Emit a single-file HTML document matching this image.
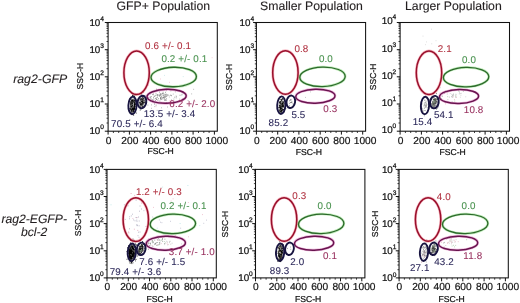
<!DOCTYPE html>
<html><head><meta charset="utf-8"><title>Flow cytometry figure</title>
<style>
html,body{margin:0;padding:0;background:#fff;}
body{width:520px;height:303px;overflow:hidden;}
svg{display:block;font-family:"Liberation Sans",sans-serif;text-rendering:geometricPrecision;}
.t{font-size:12.25px;fill:#231f20;stroke:#231f20;stroke-width:0.12px;}
.k{font-size:10.2px;fill:#111;stroke:#111;stroke-width:0.2px;}
.y{font-size:9.8px;fill:#111;stroke:#111;stroke-width:0.22px;}
.s{font-size:6.6px;fill:#111;stroke:#111;stroke-width:0.25px;}
.a{font-size:8.6px;fill:#111;stroke:#111;stroke-width:0.22px;}
.r{font-size:12.17px;font-style:italic;fill:#231f20;stroke:#231f20;stroke-width:0.1px;}
.n{font-size:9.8px;stroke-width:0.08px;letter-spacing:0.15px;}
</style></head>
<body>
<svg width="520" height="303" viewBox="0 0 520 303">
<rect width="520" height="303" fill="#fff"/>
<text class="t" x="163.3" y="10.2" text-anchor="middle">GFP+ Population</text>
<text class="t" x="311.5" y="10.2" text-anchor="middle">Smaller Population</text>
<text class="t" x="453.4" y="10.2" text-anchor="middle">Larger Population</text>
<text class="r" x="13.2" y="82.6" style="font-size:12.3px">rag2-GFP</text>
<text class="r" x="34.2" y="222.8" text-anchor="middle">rag2-EGFP-</text>
<text class="r" x="34.2" y="236.4" text-anchor="middle">bcl-2</text>
<g>
<ellipse cx="132.6" cy="105.5" rx="2.4" ry="6.6" fill="#000" fill-opacity="0.6" transform="rotate(3 132.6 105.5)"/>
<ellipse cx="142.0" cy="102.0" rx="2.5" ry="4.0" fill="#000" fill-opacity="0.5" transform="rotate(15 142.0 102.0)"/>
<path d="M130.7 107.0h0.8M134.2 103.4h0.8M130.6 105.1h0.8M133.1 110.1h0.8M131.1 100.0h0.8M133.6 107.5h0.8M134.7 109.7h0.8M132.5 104.3h0.8M136.5 104.5h0.8M131.7 100.7h0.8M132.7 106.1h0.8M132.1 105.2h0.8M132.9 108.4h0.8M134.2 106.5h0.8M129.8 108.3h0.8M130.5 104.7h0.8M130.4 105.4h0.8M131.4 106.3h0.8M137.6 105.6h0.8M134.2 100.0h0.8M132.0 108.3h0.8M132.4 107.0h0.8M133.0 101.3h0.8M133.6 102.1h0.8M135.5 103.5h0.8M133.6 105.6h0.8M134.2 103.0h0.8M134.1 105.1h0.8M134.4 108.2h0.8M133.0 102.2h0.8M133.6 107.5h0.8M135.1 104.0h0.8M133.3 107.7h0.8M133.0 106.4h0.8M133.0 103.0h0.8M131.2 103.8h0.8M133.2 111.9h0.8M133.8 110.0h0.8M133.6 108.5h0.8M132.7 108.8h0.8M135.3 104.3h0.8M131.1 113.7h0.8M132.8 109.6h0.8M134.2 100.8h0.8M135.9 113.1h0.8M132.7 108.7h0.8M133.0 101.8h0.8M132.3 107.1h0.8M134.1 108.6h0.8M132.4 111.2h0.8M131.3 108.8h0.8M134.3 104.4h0.8M130.1 101.6h0.8M132.8 107.7h0.8M135.1 101.4h0.8M132.5 108.2h0.8M132.9 95.5h0.8M133.3 115.3h0.8M134.3 101.7h0.8M131.9 106.4h0.8M136.2 108.3h0.8M132.4 112.0h0.8M132.1 113.3h0.8M131.7 103.5h0.8M133.4 111.5h0.8M133.5 106.8h0.8M130.0 102.4h0.8M131.8 103.2h0.8M133.6 104.1h0.8M133.8 105.9h0.8M132.1 106.0h0.8M133.1 109.1h0.8M131.9 104.5h0.8M130.2 112.1h0.8M134.8 104.9h0.8M132.2 100.3h0.8M132.8 106.4h0.8M135.8 106.7h0.8M132.0 95.2h0.8M134.7 106.4h0.8M130.1 106.1h0.8M129.4 120.0h0.8M134.2 108.0h0.8M132.8 96.5h0.8M132.8 99.0h0.8M134.0 96.6h0.8M131.0 110.5h0.8M135.3 100.7h0.8M130.1 109.1h0.8M134.1 101.4h0.8M131.7 102.5h0.8M131.0 102.6h0.8M134.3 108.5h0.8M135.7 105.3h0.8M132.6 101.4h0.8M132.7 100.0h0.8M129.8 108.3h0.8M134.6 109.1h0.8M134.5 106.7h0.8M131.5 105.8h0.8M132.3 100.8h0.8M130.4 99.1h0.8M132.6 106.1h0.8M131.6 111.5h0.8M132.7 108.0h0.8M134.6 102.2h0.8M129.5 108.5h0.8M131.3 110.9h0.8M132.9 109.7h0.8M134.2 96.8h0.8M133.8 102.7h0.8M131.6 103.6h0.8M133.6 109.3h0.8M134.5 98.6h0.8M132.2 95.5h0.8M132.3 108.0h0.8M131.4 106.5h0.8M132.7 109.7h0.8M131.6 102.0h0.8M131.1 112.8h0.8M134.3 105.1h0.8M132.9 106.0h0.8M132.9 104.6h0.8M132.4 100.2h0.8M131.3 112.4h0.8M133.4 105.8h0.8M132.3 105.7h0.8M133.3 102.8h0.8M132.8 106.5h0.8M131.7 102.1h0.8M131.3 101.0h0.8M134.5 95.7h0.8M132.3 102.9h0.8M131.7 105.9h0.8M134.3 105.9h0.8M132.5 102.9h0.8M132.2 109.3h0.8M132.3 100.7h0.8M130.9 100.8h0.8M130.3 110.0h0.8M133.2 104.5h0.8M134.9 102.9h0.8M133.6 108.9h0.8M130.6 98.8h0.8M131.0 109.2h0.8M134.8 100.5h0.8M134.3 104.0h0.8M132.1 103.2h0.8M132.5 97.8h0.8M131.4 100.2h0.8M132.9 114.3h0.8M136.8 104.3h0.8M130.1 103.7h0.8M130.8 113.7h0.8M133.6 102.5h0.8M133.9 107.8h0.8M130.3 103.1h0.8M132.2 105.6h0.8M132.9 104.1h0.8M133.0 103.1h0.8M130.9 111.8h0.8M133.0 107.4h0.8M130.2 104.7h0.8M134.1 100.1h0.8M134.3 104.0h0.8M133.2 105.0h0.8M132.7 110.6h0.8M131.7 112.0h0.8M131.6 101.5h0.8M133.9 101.1h0.8M131.8 109.3h0.8M134.8 98.2h0.8M132.9 113.4h0.8M134.4 104.6h0.8M131.8 104.2h0.8M130.9 104.3h0.8M132.4 104.9h0.8M134.4 104.6h0.8M130.2 109.8h0.8M131.1 103.5h0.8M132.5 104.0h0.8M131.2 104.4h0.8M136.0 103.1h0.8M132.1 110.2h0.8M133.5 108.8h0.8M134.3 97.3h0.8M131.3 106.0h0.8M133.1 111.0h0.8M133.4 104.5h0.8M132.7 104.6h0.8M132.8 108.3h0.8M132.3 102.1h0.8M131.1 110.0h0.8M134.3 109.8h0.8M133.7 109.1h0.8M132.5 108.3h0.8M131.1 104.6h0.8M131.3 108.5h0.8M131.8 105.0h0.8M132.9 111.2h0.8" stroke="#000" stroke-width="0.8" fill="none"/>
<path d="M131.8 102.2h0.6M133.8 101.7h0.6M133.2 103.5h0.6M132.8 99.1h0.6M133.5 103.8h0.6M131.1 112.7h0.6M132.8 117.8h0.6M133.2 104.3h0.6M132.4 111.1h0.6M132.5 107.1h0.6M133.4 102.4h0.6M132.8 103.8h0.6M130.9 108.5h0.6M133.4 105.8h0.6M131.9 98.4h0.6M133.2 105.2h0.6M130.6 105.2h0.6M130.8 105.3h0.6M132.7 106.7h0.6M132.8 106.1h0.6M131.3 104.1h0.6M132.0 104.6h0.6M132.8 107.7h0.6M135.0 96.6h0.6M133.1 104.8h0.6" stroke="#fff" stroke-width="0.6" fill="none"/>
<path d="M144.9 105.7h0.8M138.9 102.4h0.8M140.3 104.7h0.8M140.2 101.2h0.8M141.8 101.7h0.8M142.4 96.4h0.8M141.9 105.1h0.8M142.6 99.0h0.8M141.8 103.7h0.8M141.6 101.9h0.8M145.1 99.4h0.8M142.5 96.2h0.8M141.3 99.5h0.8M140.9 99.6h0.8M145.0 102.2h0.8M140.0 108.3h0.8M143.1 96.9h0.8M143.3 99.5h0.8M145.6 99.1h0.8M142.2 97.1h0.8M142.8 99.1h0.8M142.1 100.9h0.8M140.2 104.5h0.8M143.4 102.6h0.8M141.3 98.5h0.8M140.5 109.0h0.8M141.8 99.5h0.8M141.6 98.5h0.8M140.5 101.0h0.8M144.3 102.6h0.8M142.3 97.1h0.8M142.3 102.0h0.8M140.7 98.3h0.8M141.0 104.9h0.8M142.8 102.9h0.8M141.1 102.8h0.8M140.2 108.3h0.8M140.3 100.4h0.8M144.2 101.8h0.8M144.3 102.5h0.8M142.4 101.0h0.8M140.4 98.6h0.8M145.0 104.8h0.8M142.2 105.0h0.8M142.0 105.2h0.8M141.6 101.2h0.8M143.8 101.4h0.8M139.9 100.8h0.8M140.5 103.5h0.8M141.5 98.6h0.8M140.1 106.4h0.8M141.7 102.4h0.8M141.7 102.9h0.8M142.3 106.5h0.8M138.1 105.2h0.8M142.1 101.1h0.8M146.0 102.6h0.8M144.3 105.7h0.8M139.8 103.0h0.8M143.2 102.0h0.8M138.3 100.0h0.8M142.4 98.7h0.8M145.1 102.1h0.8M141.5 101.0h0.8M141.2 99.4h0.8M141.8 102.9h0.8M141.1 101.5h0.8M139.2 102.9h0.8M140.5 102.3h0.8M140.8 100.1h0.8M143.2 98.6h0.8M146.0 103.0h0.8M142.4 99.8h0.8M143.4 106.7h0.8M143.5 98.2h0.8M140.6 103.6h0.8M142.0 98.3h0.8M140.5 99.2h0.8M142.4 100.1h0.8M139.8 110.1h0.8M145.6 99.8h0.8M142.4 102.4h0.8M140.9 105.0h0.8M141.6 100.9h0.8M141.4 101.5h0.8M143.4 104.8h0.8M140.0 100.1h0.8M140.0 104.0h0.8M141.6 104.7h0.8M143.3 96.4h0.8M142.5 102.9h0.8M143.7 98.4h0.8M142.6 100.0h0.8M140.5 102.7h0.8M143.2 99.6h0.8M141.0 94.1h0.8M140.1 105.0h0.8M143.6 95.5h0.8M140.2 102.8h0.8M143.7 106.1h0.8M142.3 102.7h0.8M140.5 100.2h0.8M142.0 99.6h0.8M142.3 100.9h0.8M141.3 106.3h0.8M142.8 103.5h0.8M142.7 97.5h0.8M141.3 103.5h0.8M139.3 105.2h0.8M141.1 102.9h0.8M142.3 98.2h0.8M146.2 99.5h0.8M143.8 100.8h0.8M143.0 99.8h0.8M140.5 104.5h0.8M145.8 100.4h0.8M141.2 104.8h0.8M140.3 103.8h0.8M140.1 103.4h0.8M141.7 105.7h0.8M143.4 98.7h0.8M143.8 99.1h0.8M142.0 106.7h0.8M143.3 100.7h0.8M143.7 103.0h0.8M140.1 100.4h0.8M144.5 101.7h0.8M142.4 101.1h0.8M139.5 99.8h0.8M142.3 102.8h0.8" stroke="#111" stroke-width="0.8" fill="none"/>
<path d="M143.0 97.0h0.6M143.0 104.1h0.6M142.4 105.4h0.6M141.7 100.4h0.6M141.3 106.0h0.6M139.9 100.9h0.6M140.7 103.1h0.6M143.9 101.8h0.6M140.3 101.7h0.6M142.5 98.3h0.6M143.3 101.1h0.6M143.6 99.2h0.6M144.2 99.0h0.6M144.3 98.2h0.6M143.9 101.6h0.6M140.1 100.9h0.6M142.9 99.8h0.6M141.1 102.5h0.6" stroke="#fff" stroke-width="0.6" fill="none"/>
<path d="M156.1 89.2h0.8M155.2 98.4h0.8M160.4 99.4h0.8M154.0 104.1h0.8M163.8 97.2h0.8M165.9 98.7h0.8M158.6 95.3h0.8M165.3 97.3h0.8M144.6 95.5h0.8M161.4 96.9h0.8M160.2 98.5h0.8M159.5 101.0h0.8M153.9 96.4h0.8M160.5 98.7h0.8M164.0 100.3h0.8M155.1 100.4h0.8M161.1 94.0h0.8M157.7 102.5h0.8M163.4 95.2h0.8M141.2 96.9h0.8M153.2 97.7h0.8M174.4 97.2h0.8M160.0 94.4h0.8M149.8 97.3h0.8M155.7 105.1h0.8M155.1 95.7h0.8M166.0 96.4h0.8M149.9 101.2h0.8M155.6 93.8h0.8M160.5 98.0h0.8M155.9 99.1h0.8M163.6 94.1h0.8M143.1 92.3h0.8M157.5 100.3h0.8M165.5 99.9h0.8M171.0 95.7h0.8M165.0 92.3h0.8M163.0 97.5h0.8M157.3 95.9h0.8M150.4 98.2h0.8M166.9 95.1h0.8M161.6 94.9h0.8M159.6 94.2h0.8M160.7 96.2h0.8M160.1 95.2h0.8M149.8 97.0h0.8M165.7 100.3h0.8M156.1 99.3h0.8M163.5 97.5h0.8M147.4 99.0h0.8M151.7 100.8h0.8M163.8 98.0h0.8M140.6 100.5h0.8M162.6 93.2h0.8M164.9 96.5h0.8M156.6 95.3h0.8M150.9 96.6h0.8M179.6 95.3h0.8M159.4 95.2h0.8M153.7 96.0h0.8M152.2 99.9h0.8M156.5 99.4h0.8M150.3 100.2h0.8M158.1 98.7h0.8M157.1 94.8h0.8M166.4 95.0h0.8M156.8 94.8h0.8M159.4 95.8h0.8M160.2 97.7h0.8M152.9 93.9h0.8M161.4 99.1h0.8M162.6 93.5h0.8M162.4 97.6h0.8M160.2 97.9h0.8M155.9 97.8h0.8M164.4 95.0h0.8M148.0 97.8h0.8M159.0 92.1h0.8M153.5 99.0h0.8M157.1 97.3h0.8M149.6 100.3h0.8M170.3 95.2h0.8M152.7 94.5h0.8M164.3 96.6h0.8M152.9 100.7h0.8M163.6 98.0h0.8M145.8 98.0h0.8M162.1 93.4h0.8M165.0 100.0h0.8M165.1 94.4h0.8" stroke="#777" stroke-width="0.8" fill="none"/>
<path d="M163.9 99.3h0.8M179.3 99.1h0.8M180.9 94.9h0.8M166.0 90.7h0.8M177.6 102.3h0.8M165.8 94.9h0.8M176.0 96.7h0.8M157.6 94.7h0.8M160.7 102.7h0.8M163.8 99.0h0.8M187.7 100.5h0.8M183.2 100.0h0.8M158.9 95.7h0.8M163.5 95.6h0.8M193.3 89.3h0.8M174.9 91.9h0.8M182.4 99.0h0.8M165.9 102.5h0.8M171.0 99.9h0.8M172.8 94.1h0.8M166.7 95.9h0.8M175.7 96.0h0.8M191.3 93.9h0.8M165.8 94.1h0.8M162.8 92.2h0.8M161.4 99.3h0.8M170.6 95.4h0.8M173.5 99.0h0.8M175.8 97.9h0.8M165.0 95.6h0.8M163.1 96.2h0.8M162.7 95.4h0.8M168.5 95.5h0.8M167.6 94.7h0.8M181.8 94.2h0.8M161.1 97.2h0.8M160.1 93.5h0.8M170.5 91.0h0.8M141.3 98.9h0.8M179.0 90.3h0.8M162.2 98.3h0.8M152.1 94.6h0.8M159.2 96.2h0.8M152.6 99.9h0.8M168.9 97.0h0.8" stroke="#999" stroke-width="0.8" fill="none"/>
<path d="M151.1 99.1h0.8M152.7 101.5h0.8M154.2 102.9h0.8M151.2 104.9h0.8M161.1 107.8h0.8M145.1 105.5h0.8M167.2 107.0h0.8M147.5 105.1h0.8M151.0 108.3h0.8M154.4 106.6h0.8M174.0 101.4h0.8M145.0 100.3h0.8M139.8 108.1h0.8M156.7 110.4h0.8" stroke="#999" stroke-width="0.8" fill="none"/>
<path d="M211.4 105.1h0.8M194.6 101.7h0.8M169.1 82.3h0.8M169.1 101.0h0.8M163.2 89.6h0.8M211.7 57.7h0.8M145.6 94.9h0.8M160.2 79.0h0.8M155.6 106.7h0.8M148.0 85.1h0.8" stroke="#f0b6c6" stroke-width="0.8" fill="none"/>
<path d="M183.9 84.5h0.8M182.8 76.6h0.8M149.9 94.6h0.8M180.7 119.5h0.8M181.6 95.4h0.8M164.2 75.4h0.8" stroke="#bfe3e6" stroke-width="0.8" fill="none"/>
<rect x="108.1" y="22.5" width="109.20" height="108.70" fill="none" stroke="#111" stroke-width="1.05"/>
<path d="M113.4 131.2v1.8M118.7 131.2v1.8M124.0 131.2v1.8M134.7 131.2v1.8M140.0 131.2v1.8M145.3 131.2v1.8M155.9 131.2v1.8M161.2 131.2v1.8M166.6 131.2v1.8M177.2 131.2v1.8M182.5 131.2v1.8M187.8 131.2v1.8M198.5 131.2v1.8M203.8 131.2v1.8M209.1 131.2v1.8M108.1 123.0h-1.6M108.1 118.2h-1.6M108.1 114.8h-1.6M108.1 112.2h-1.6M108.1 110.1h-1.6M108.1 108.2h-1.6M108.1 106.7h-1.6M108.1 105.3h-1.6M108.1 95.8h-1.6M108.1 91.1h-1.6M108.1 87.7h-1.6M108.1 85.0h-1.6M108.1 82.9h-1.6M108.1 81.1h-1.6M108.1 79.5h-1.6M108.1 78.1h-1.6M108.1 68.7h-1.6M108.1 63.9h-1.6M108.1 60.5h-1.6M108.1 57.9h-1.6M108.1 55.7h-1.6M108.1 53.9h-1.6M108.1 52.3h-1.6M108.1 50.9h-1.6M108.1 41.5h-1.6M108.1 36.7h-1.6M108.1 33.3h-1.6M108.1 30.7h-1.6M108.1 28.5h-1.6M108.1 26.7h-1.6M108.1 25.1h-1.6M108.1 23.7h-1.6" stroke="#111" stroke-width="0.8" fill="none"/>
<path d="M108.1 131.2v3.4M129.4 131.2v3.4M150.6 131.2v3.4M171.9 131.2v3.4M193.1 131.2v3.4M214.4 131.2v3.4M108.1 131.2h-3.3M108.1 104.0h-3.3M108.1 76.8h-3.3M108.1 49.7h-3.3M108.1 22.5h-3.3" stroke="#111" stroke-width="1" fill="none"/>
<text class="k" x="108.5" y="143.5" text-anchor="middle">0</text><text class="k" x="129.8" y="143.5" text-anchor="middle">200</text><text class="k" x="151.0" y="143.5" text-anchor="middle">400</text><text class="k" x="172.3" y="143.5" text-anchor="middle">600</text><text class="k" x="193.5" y="143.5" text-anchor="middle">800</text><text class="k" x="216.8" y="143.5" text-anchor="middle">1000</text>
<text class="y" x="100.3" y="134.2" text-anchor="end">10</text><text class="s" x="100.2" y="129.3">0</text><text class="y" x="100.3" y="107.0" text-anchor="end">10</text><text class="s" x="100.2" y="102.1">1</text><text class="y" x="100.3" y="79.8" text-anchor="end">10</text><text class="s" x="100.2" y="74.9">2</text><text class="y" x="100.3" y="52.7" text-anchor="end">10</text><text class="s" x="100.2" y="47.8">3</text><text class="y" x="100.3" y="25.5" text-anchor="end">10</text><text class="s" x="100.2" y="20.6">4</text>
<text class="a" x="160.6" y="154.4" text-anchor="middle">FSC-H</text>
<text class="a" transform="translate(82.5 76.1) rotate(-90)" text-anchor="middle">SSC-H</text>
<ellipse cx="136.6" cy="72.7" rx="12.7" ry="21.8" fill="none" stroke="#f0506a" stroke-opacity="0.4" stroke-width="2.8" transform="rotate(0 136.6 72.7)"/>
<ellipse cx="136.6" cy="72.7" rx="12.7" ry="21.8" fill="none" stroke="#98102c" stroke-width="1.5" transform="rotate(0 136.6 72.7)"/>
<ellipse cx="173.7" cy="77.0" rx="22.7" ry="9.75" fill="none" stroke="#5fd050" stroke-opacity="0.4" stroke-width="2.6" transform="rotate(-1.5 173.7 77.0)"/>
<ellipse cx="173.7" cy="77.0" rx="22.7" ry="9.75" fill="none" stroke="#2c682b" stroke-width="1.3" transform="rotate(-1.5 173.7 77.0)"/>
<ellipse cx="166.6" cy="96.3" rx="19.6" ry="7.0" fill="none" stroke="#d84aa8" stroke-opacity="0.4" stroke-width="2.7" transform="rotate(-1.5 166.6 96.3)"/>
<ellipse cx="166.6" cy="96.3" rx="19.6" ry="7.0" fill="none" stroke="#68144f" stroke-width="1.45" transform="rotate(-1.5 166.6 96.3)"/>
<ellipse cx="132.5" cy="105.4" rx="4.1" ry="8.8" fill="none" stroke="#17133f" stroke-width="1.9" transform="rotate(3 132.5 105.4)"/>
<ellipse cx="142.0" cy="102.0" rx="4.3" ry="6.3" fill="none" stroke="#17133f" stroke-width="1.9" transform="rotate(9 142.0 102.0)"/>
<text class="n" x="145.1" y="48.5" fill="#b0303f" stroke="#b0303f">0.6 +/- 0.1</text>
<text class="n" x="161.4" y="62.4" fill="#46904c" stroke="#46904c">0.2 +/- 0.1</text>
<text class="n" x="169.3" y="106.7" fill="#98305e" stroke="#98305e">6.2 +/- 2.0</text>
<text class="n" x="143.7" y="116.6" fill="#2a2658" stroke="#2a2658">13.5 +/- 3.4</text>
<text class="n" x="111.1" y="126.5" fill="#2a2658" stroke="#2a2658">70.5 +/- 6.4</text>
</g>
<g>
<ellipse cx="281.3" cy="105.5" rx="1.7" ry="5.6" fill="#000" fill-opacity="0.5" transform="rotate(3 281.3 105.5)"/>
<path d="M283.7 100.9h0.8M281.2 103.4h0.8M280.7 96.6h0.8M280.8 106.0h0.8M281.3 108.9h0.8M281.2 102.9h0.8M281.6 108.2h0.8M280.4 99.4h0.8M279.7 109.7h0.8M282.8 102.0h0.8M281.3 108.9h0.8M283.2 103.0h0.8M280.7 111.1h0.8M284.1 111.8h0.8M279.7 107.2h0.8M280.9 105.2h0.8M280.5 103.5h0.8M280.9 112.7h0.8M282.1 107.3h0.8M281.5 102.5h0.8M280.7 110.4h0.8M282.0 113.4h0.8M281.6 105.4h0.8M279.1 107.0h0.8M278.7 111.5h0.8M280.5 105.5h0.8M279.7 103.4h0.8M279.9 110.0h0.8M281.9 100.8h0.8M278.8 105.1h0.8M280.9 101.0h0.8M282.1 104.8h0.8M281.6 103.1h0.8M280.7 103.6h0.8M279.1 107.9h0.8M282.2 98.6h0.8M281.2 110.1h0.8M281.3 110.7h0.8M281.0 105.5h0.8M279.8 101.8h0.8M279.1 101.8h0.8M281.5 107.6h0.8M282.8 106.1h0.8M279.9 107.2h0.8M280.7 112.6h0.8M283.6 109.5h0.8M279.9 103.3h0.8M281.7 102.7h0.8M281.8 108.3h0.8M282.3 106.5h0.8M280.3 102.1h0.8M280.9 110.8h0.8M283.1 109.5h0.8M281.6 108.2h0.8M282.1 110.7h0.8M282.7 99.4h0.8M282.5 107.1h0.8M280.6 107.6h0.8M281.7 105.3h0.8M279.1 105.8h0.8M282.0 105.3h0.8M279.1 107.2h0.8M282.2 106.3h0.8M281.9 104.1h0.8M280.3 107.5h0.8M280.8 106.2h0.8M285.4 108.6h0.8M281.8 99.0h0.8M281.3 108.5h0.8M280.4 104.5h0.8M278.3 107.6h0.8M280.4 108.2h0.8M283.1 104.9h0.8M282.5 106.6h0.8M281.1 104.4h0.8M279.9 110.6h0.8M282.7 101.5h0.8M282.5 102.6h0.8M279.1 110.2h0.8M279.4 110.1h0.8M281.4 109.1h0.8M281.7 110.1h0.8M281.6 107.8h0.8M281.4 109.9h0.8M280.6 109.5h0.8M283.3 105.3h0.8M282.0 103.5h0.8M280.9 106.5h0.8M281.0 101.9h0.8M281.2 106.3h0.8M281.6 108.4h0.8M278.7 111.0h0.8M281.2 102.4h0.8M280.7 107.2h0.8M282.5 104.1h0.8M281.8 99.1h0.8M281.5 105.1h0.8M280.6 109.0h0.8M283.4 109.7h0.8M280.0 111.6h0.8M280.9 105.3h0.8M280.5 107.3h0.8M282.0 106.1h0.8M281.1 104.9h0.8M280.6 109.4h0.8M280.7 104.9h0.8M281.2 102.5h0.8M281.3 99.6h0.8M281.7 107.7h0.8M280.6 111.7h0.8M280.1 107.7h0.8M282.0 103.4h0.8M280.8 109.0h0.8M281.3 106.6h0.8M283.1 106.5h0.8M279.3 102.5h0.8M282.4 105.0h0.8M280.3 97.6h0.8M281.4 111.5h0.8M280.1 96.8h0.8M282.1 103.4h0.8M281.0 104.2h0.8M280.0 107.2h0.8M282.4 107.0h0.8M280.4 109.6h0.8M281.0 107.8h0.8M280.0 108.0h0.8M282.0 110.7h0.8M281.2 107.3h0.8M280.4 109.0h0.8M282.1 109.8h0.8M281.1 100.6h0.8M281.3 104.7h0.8M280.2 107.8h0.8M282.4 107.1h0.8M282.6 107.1h0.8M280.2 103.1h0.8M280.7 108.2h0.8M282.5 106.1h0.8M282.8 102.3h0.8M280.8 111.4h0.8M281.7 109.7h0.8M279.2 98.8h0.8M280.0 109.4h0.8M283.5 103.2h0.8M280.2 101.4h0.8M280.0 107.6h0.8M280.5 112.9h0.8M282.4 102.9h0.8M281.6 104.9h0.8M282.1 109.1h0.8M280.7 109.0h0.8M282.0 105.2h0.8M281.5 108.2h0.8M281.0 102.8h0.8M282.9 105.6h0.8M280.4 107.3h0.8M279.4 105.6h0.8M279.7 103.7h0.8M279.2 102.6h0.8M282.5 104.9h0.8M279.4 112.3h0.8M280.2 111.3h0.8M280.9 99.7h0.8M283.7 103.9h0.8M282.0 110.2h0.8M279.6 105.7h0.8M280.4 107.9h0.8M281.5 100.6h0.8M281.2 108.5h0.8" stroke="#000" stroke-width="0.8" fill="none"/>
<path d="M280.9 107.3h0.6M280.8 105.3h0.6M281.6 106.0h0.6M282.4 108.6h0.6M282.0 107.8h0.6M281.6 101.9h0.6M282.1 111.0h0.6M281.6 104.7h0.6M281.1 109.3h0.6M281.7 102.5h0.6M281.3 103.1h0.6M281.3 102.7h0.6M280.2 110.1h0.6M282.6 100.5h0.6M280.4 104.1h0.6M281.2 101.2h0.6M282.4 100.5h0.6M281.9 107.7h0.6" stroke="#fff" stroke-width="0.6" fill="none"/>
<path d="M290.5 100.3h0.8M290.6 102.4h0.8M288.3 98.1h0.8M291.5 102.0h0.8M290.6 99.4h0.8M290.0 99.9h0.8M295.7 100.1h0.8M292.6 103.8h0.8M290.8 102.6h0.8M289.0 105.8h0.8M291.4 102.2h0.8M290.3 102.5h0.8M289.1 100.8h0.8M289.3 103.3h0.8" stroke="#666" stroke-width="0.8" fill="none"/>
<path d="M310.0 91.9h0.8M305.1 97.4h0.8M298.9 93.2h0.8" stroke="#aaa" stroke-width="0.8" fill="none"/>
<rect x="256.4" y="22.5" width="109.20" height="108.70" fill="none" stroke="#111" stroke-width="1.05"/>
<path d="M261.7 131.2v1.8M267.0 131.2v1.8M272.3 131.2v1.8M283.0 131.2v1.8M288.3 131.2v1.8M293.6 131.2v1.8M304.2 131.2v1.8M309.5 131.2v1.8M314.9 131.2v1.8M325.5 131.2v1.8M330.8 131.2v1.8M336.1 131.2v1.8M346.8 131.2v1.8M352.1 131.2v1.8M357.4 131.2v1.8M256.4 123.0h-1.6M256.4 118.2h-1.6M256.4 114.8h-1.6M256.4 112.2h-1.6M256.4 110.1h-1.6M256.4 108.2h-1.6M256.4 106.7h-1.6M256.4 105.3h-1.6M256.4 95.8h-1.6M256.4 91.1h-1.6M256.4 87.7h-1.6M256.4 85.0h-1.6M256.4 82.9h-1.6M256.4 81.1h-1.6M256.4 79.5h-1.6M256.4 78.1h-1.6M256.4 68.7h-1.6M256.4 63.9h-1.6M256.4 60.5h-1.6M256.4 57.9h-1.6M256.4 55.7h-1.6M256.4 53.9h-1.6M256.4 52.3h-1.6M256.4 50.9h-1.6M256.4 41.5h-1.6M256.4 36.7h-1.6M256.4 33.3h-1.6M256.4 30.7h-1.6M256.4 28.5h-1.6M256.4 26.7h-1.6M256.4 25.1h-1.6M256.4 23.7h-1.6" stroke="#111" stroke-width="0.8" fill="none"/>
<path d="M256.4 131.2v3.4M277.7 131.2v3.4M298.9 131.2v3.4M320.2 131.2v3.4M341.4 131.2v3.4M362.7 131.2v3.4M256.4 131.2h-3.3M256.4 104.0h-3.3M256.4 76.8h-3.3M256.4 49.7h-3.3M256.4 22.5h-3.3" stroke="#111" stroke-width="1" fill="none"/>
<text class="k" x="256.8" y="143.5" text-anchor="middle">0</text><text class="k" x="278.1" y="143.5" text-anchor="middle">200</text><text class="k" x="299.3" y="143.5" text-anchor="middle">400</text><text class="k" x="320.6" y="143.5" text-anchor="middle">600</text><text class="k" x="341.8" y="143.5" text-anchor="middle">800</text><text class="k" x="365.1" y="143.5" text-anchor="middle">1000</text>
<text class="y" x="250.5" y="134.2" text-anchor="end">10</text><text class="s" x="250.4" y="129.3">0</text><text class="y" x="250.5" y="107.0" text-anchor="end">10</text><text class="s" x="250.4" y="102.1">1</text><text class="y" x="250.5" y="79.8" text-anchor="end">10</text><text class="s" x="250.4" y="74.9">2</text><text class="y" x="250.5" y="52.7" text-anchor="end">10</text><text class="s" x="250.4" y="47.8">3</text><text class="y" x="250.5" y="25.5" text-anchor="end">10</text><text class="s" x="250.4" y="20.6">4</text>
<text class="a" x="308.9" y="155.2" text-anchor="middle">FSC-H</text>
<text class="a" transform="translate(231.8 77.1) rotate(-90)" text-anchor="middle">SSC-H</text>
<ellipse cx="285.4" cy="72.5" rx="12.7" ry="21.8" fill="none" stroke="#f0506a" stroke-opacity="0.4" stroke-width="2.8" transform="rotate(0 285.4 72.5)"/>
<ellipse cx="285.4" cy="72.5" rx="12.7" ry="21.8" fill="none" stroke="#98102c" stroke-width="1.5" transform="rotate(0 285.4 72.5)"/>
<ellipse cx="322.5" cy="76.8" rx="22.7" ry="9.75" fill="none" stroke="#5fd050" stroke-opacity="0.4" stroke-width="2.6" transform="rotate(-1.5 322.5 76.8)"/>
<ellipse cx="322.5" cy="76.8" rx="22.7" ry="9.75" fill="none" stroke="#2c682b" stroke-width="1.3" transform="rotate(-1.5 322.5 76.8)"/>
<ellipse cx="315.4" cy="96.2" rx="19.6" ry="7.0" fill="none" stroke="#d84aa8" stroke-opacity="0.4" stroke-width="2.7" transform="rotate(-1.5 315.4 96.2)"/>
<ellipse cx="315.4" cy="96.2" rx="19.6" ry="7.0" fill="none" stroke="#68144f" stroke-width="1.45" transform="rotate(-1.5 315.4 96.2)"/>
<ellipse cx="281.3" cy="105.2" rx="4.1" ry="8.8" fill="none" stroke="#17133f" stroke-width="1.9" transform="rotate(3 281.3 105.2)"/>
<ellipse cx="290.8" cy="101.8" rx="4.3" ry="6.3" fill="none" stroke="#17133f" stroke-width="1.9" transform="rotate(9 290.8 101.8)"/>
<text class="n" x="294.4" y="52.2" fill="#b0303f" stroke="#b0303f">0.8</text>
<text class="n" x="318.9" y="62.1" fill="#46904c" stroke="#46904c">0.0</text>
<text class="n" x="323.3" y="112.4" fill="#98305e" stroke="#98305e">0.3</text>
<text class="n" x="291.4" y="117.6" fill="#2a2658" stroke="#2a2658">5.5</text>
<text class="n" x="268.6" y="125.9" fill="#2a2658" stroke="#2a2658">85.2</text>
</g>
<g>
<ellipse cx="434.3" cy="102.1" rx="2.0" ry="3.4" fill="#000" fill-opacity="0.25" transform="rotate(15 434.3 102.1)"/>
<path d="M426.5 105.0h0.8M424.6 100.2h0.8M425.4 103.1h0.8M425.2 107.4h0.8M426.1 104.2h0.8M424.2 105.6h0.8M424.8 106.3h0.8M424.3 104.5h0.8M424.3 102.9h0.8M425.0 110.6h0.8M424.1 108.1h0.8M425.5 106.0h0.8M426.1 103.1h0.8M425.8 106.9h0.8M419.8 106.8h0.8M425.4 114.2h0.8M423.4 105.9h0.8M425.7 101.3h0.8M426.7 107.6h0.8M424.1 100.2h0.8M423.9 115.9h0.8M428.7 94.8h0.8M422.2 108.3h0.8M425.0 102.7h0.8M425.9 106.0h0.8M425.4 106.7h0.8M423.1 111.2h0.8M424.1 110.5h0.8M426.0 105.8h0.8M425.2 105.3h0.8M422.4 104.0h0.8M426.0 98.5h0.8M422.6 110.2h0.8M426.6 98.8h0.8M425.7 105.4h0.8M426.5 104.2h0.8M424.9 102.2h0.8M425.3 105.0h0.8M424.1 104.0h0.8M423.8 108.2h0.8" stroke="#999" stroke-width="0.8" fill="none"/>
<path d="M433.8 97.4h0.8M432.0 104.7h0.8M433.0 103.7h0.8M435.9 101.0h0.8M435.2 103.8h0.8M434.8 100.2h0.8M435.2 98.6h0.8M434.3 100.4h0.8M434.8 103.3h0.8M432.6 104.2h0.8M436.2 102.8h0.8M432.7 103.2h0.8M430.8 99.4h0.8M433.8 107.9h0.8M432.0 106.0h0.8M436.7 108.3h0.8M429.7 104.1h0.8M433.9 105.0h0.8M434.5 100.3h0.8M432.8 106.2h0.8M435.9 101.7h0.8M434.3 104.7h0.8M435.3 102.2h0.8M433.8 99.8h0.8M434.0 100.4h0.8M432.8 97.5h0.8M436.6 99.4h0.8M432.2 101.4h0.8M435.7 106.2h0.8M434.4 99.1h0.8M434.1 99.3h0.8M433.1 103.2h0.8M433.2 99.5h0.8M433.9 101.9h0.8M433.6 99.6h0.8M433.0 99.5h0.8M435.3 101.7h0.8M428.8 102.5h0.8M434.8 99.7h0.8M436.1 93.6h0.8M430.7 104.6h0.8M436.2 109.1h0.8M433.1 101.9h0.8M436.5 99.0h0.8M437.7 100.9h0.8M435.7 99.1h0.8M434.9 102.2h0.8M436.9 99.4h0.8M432.9 107.2h0.8M432.1 102.6h0.8M435.4 100.9h0.8M432.8 105.9h0.8M435.7 104.2h0.8M435.6 99.1h0.8M433.1 107.2h0.8M437.0 98.8h0.8M431.4 99.3h0.8M435.0 100.6h0.8M433.5 102.9h0.8M435.6 103.1h0.8M437.4 98.7h0.8M434.7 103.5h0.8M430.9 105.0h0.8M432.8 97.3h0.8M437.7 106.9h0.8M433.9 106.1h0.8M437.0 99.4h0.8M434.0 106.2h0.8M434.0 102.2h0.8M433.0 104.0h0.8M433.8 100.2h0.8M433.0 99.0h0.8M434.3 103.5h0.8M434.5 99.0h0.8M434.6 103.3h0.8M436.8 101.3h0.8M433.2 103.4h0.8M436.9 102.6h0.8M434.9 99.4h0.8M433.0 104.6h0.8M434.9 105.6h0.8M431.0 103.7h0.8M432.3 103.4h0.8M430.5 100.8h0.8M431.9 105.3h0.8M433.5 105.8h0.8M432.1 107.5h0.8M432.1 107.3h0.8M434.2 99.1h0.8M436.1 101.4h0.8" stroke="#444" stroke-width="0.8" fill="none"/>
<path d="M435.1 98.8h0.8M433.7 102.2h0.8M433.0 102.8h0.8M430.4 103.4h0.8M432.7 105.5h0.8M434.2 100.4h0.8M433.5 102.6h0.8M435.5 101.2h0.8M432.9 102.8h0.8M436.6 98.2h0.8M433.2 100.1h0.8M436.0 105.8h0.8" stroke="#7a9a70" stroke-width="0.8" fill="none"/>
<path d="M452.1 95.6h0.8M440.8 98.8h0.8M444.2 93.4h0.8M458.2 89.7h0.8M455.5 94.3h0.8M441.6 96.2h0.8M442.1 96.2h0.8M442.8 92.6h0.8M462.9 91.5h0.8M453.0 94.0h0.8M450.7 91.3h0.8M439.7 87.7h0.8M453.3 95.3h0.8M440.3 98.1h0.8M451.7 101.8h0.8M448.9 97.1h0.8M451.1 96.4h0.8M446.8 94.0h0.8M451.8 97.5h0.8M439.7 93.1h0.8M447.5 99.6h0.8M445.3 90.9h0.8M452.2 96.2h0.8M458.9 93.8h0.8M458.7 91.5h0.8M452.6 94.6h0.8M439.9 95.3h0.8M455.5 96.7h0.8" stroke="#aaa" stroke-width="0.8" fill="none"/>
<path d="M455.1 97.3h0.8M465.4 96.8h0.8M460.5 95.3h0.8M451.4 94.3h0.8M459.1 92.6h0.8M455.8 94.9h0.8M459.9 97.2h0.8M449.8 93.5h0.8M460.3 93.6h0.8M460.8 93.3h0.8" stroke="#c5c5c5" stroke-width="0.8" fill="none"/>
<path d="M455.3 95.8h0.8M441.2 98.8h0.8M458.2 90.7h0.8M447.3 96.7h0.8M454.4 101.1h0.8M447.2 91.8h0.8" stroke="#9cc09a" stroke-width="0.8" fill="none"/>
<path d="M454.2 99.6h0.8M453.0 96.8h0.8M445.2 103.9h0.8M442.9 91.9h0.8M456.1 97.4h0.8" stroke="#e6a9b9" stroke-width="0.8" fill="none"/>
<path d="M431.4 43.8h0.8M431.7 51.4h0.8M425.1 44.7h0.8M431.2 29.2h0.8M435.6 40.7h0.8M422.6 36.1h0.8M426.2 41.9h0.8" stroke="#d0d0d0" stroke-width="0.8" fill="none"/>
<path d="M449.5 51.3h0.8M441.5 63.8h0.8M438.9 58.6h0.8M438.2 61.2h0.8M471.8 62.2h0.8" stroke="#ddd" stroke-width="0.8" fill="none"/>
<rect x="400.1" y="22.5" width="109.40" height="108.70" fill="none" stroke="#111" stroke-width="1.05"/>
<path d="M405.4 131.2v1.8M410.7 131.2v1.8M416.0 131.2v1.8M426.7 131.2v1.8M432.0 131.2v1.8M437.3 131.2v1.8M447.9 131.2v1.8M453.2 131.2v1.8M458.6 131.2v1.8M469.2 131.2v1.8M474.5 131.2v1.8M479.8 131.2v1.8M490.5 131.2v1.8M495.8 131.2v1.8M501.1 131.2v1.8M400.1 123.0h-1.6M400.1 118.2h-1.6M400.1 114.8h-1.6M400.1 112.2h-1.6M400.1 110.1h-1.6M400.1 108.2h-1.6M400.1 106.7h-1.6M400.1 105.3h-1.6M400.1 95.8h-1.6M400.1 91.1h-1.6M400.1 87.7h-1.6M400.1 85.0h-1.6M400.1 82.9h-1.6M400.1 81.1h-1.6M400.1 79.5h-1.6M400.1 78.1h-1.6M400.1 68.7h-1.6M400.1 63.9h-1.6M400.1 60.5h-1.6M400.1 57.9h-1.6M400.1 55.7h-1.6M400.1 53.9h-1.6M400.1 52.3h-1.6M400.1 50.9h-1.6M400.1 41.5h-1.6M400.1 36.7h-1.6M400.1 33.3h-1.6M400.1 30.7h-1.6M400.1 28.5h-1.6M400.1 26.7h-1.6M400.1 25.1h-1.6M400.1 23.7h-1.6" stroke="#111" stroke-width="0.8" fill="none"/>
<path d="M400.1 131.2v3.4M421.4 131.2v3.4M442.6 131.2v3.4M463.9 131.2v3.4M485.1 131.2v3.4M506.4 131.2v3.4M400.1 131.2h-3.3M400.1 104.0h-3.3M400.1 76.8h-3.3M400.1 49.7h-3.3M400.1 22.5h-3.3" stroke="#111" stroke-width="1" fill="none"/>
<text class="k" x="400.5" y="143.5" text-anchor="middle">0</text><text class="k" x="421.8" y="143.5" text-anchor="middle">200</text><text class="k" x="443.0" y="143.5" text-anchor="middle">400</text><text class="k" x="464.3" y="143.5" text-anchor="middle">600</text><text class="k" x="485.5" y="143.5" text-anchor="middle">800</text><text class="k" x="508.1" y="143.5" text-anchor="middle">1000</text>
<text class="y" x="392.6" y="133.0" text-anchor="end">10</text><text class="s" x="392.5" y="128.1">0</text><text class="y" x="392.6" y="105.8" text-anchor="end">10</text><text class="s" x="392.5" y="100.9">1</text><text class="y" x="392.6" y="78.6" text-anchor="end">10</text><text class="s" x="392.5" y="73.7">2</text><text class="y" x="392.6" y="51.5" text-anchor="end">10</text><text class="s" x="392.5" y="46.6">3</text><text class="y" x="392.6" y="24.3" text-anchor="end">10</text><text class="s" x="392.5" y="19.4">4</text>
<text class="a" x="452.7" y="155.4" text-anchor="middle">FSC-H</text>
<text class="a" transform="translate(376.4 76.9) rotate(-90)" text-anchor="middle">SSC-H</text>
<ellipse cx="429.0" cy="72.8" rx="12.7" ry="21.8" fill="none" stroke="#f0506a" stroke-opacity="0.4" stroke-width="2.8" transform="rotate(0 429.0 72.8)"/>
<ellipse cx="429.0" cy="72.8" rx="12.7" ry="21.8" fill="none" stroke="#98102c" stroke-width="1.5" transform="rotate(0 429.0 72.8)"/>
<ellipse cx="466.1" cy="77.1" rx="22.7" ry="9.75" fill="none" stroke="#5fd050" stroke-opacity="0.4" stroke-width="2.6" transform="rotate(-1.5 466.1 77.1)"/>
<ellipse cx="466.1" cy="77.1" rx="22.7" ry="9.75" fill="none" stroke="#2c682b" stroke-width="1.3" transform="rotate(-1.5 466.1 77.1)"/>
<ellipse cx="459.0" cy="96.5" rx="19.6" ry="7.0" fill="none" stroke="#d84aa8" stroke-opacity="0.4" stroke-width="2.7" transform="rotate(-1.5 459.0 96.5)"/>
<ellipse cx="459.0" cy="96.5" rx="19.6" ry="7.0" fill="none" stroke="#68144f" stroke-width="1.45" transform="rotate(-1.5 459.0 96.5)"/>
<ellipse cx="425.0" cy="105.5" rx="4.1" ry="8.8" fill="none" stroke="#17133f" stroke-width="1.9" transform="rotate(3 425.0 105.5)"/>
<ellipse cx="434.4" cy="102.1" rx="4.3" ry="6.3" fill="none" stroke="#17133f" stroke-width="1.9" transform="rotate(9 434.4 102.1)"/>
<text class="n" x="437.7" y="52.2" fill="#b0303f" stroke="#b0303f">2.1</text>
<text class="n" x="462.0" y="63.0" fill="#46904c" stroke="#46904c">0.0</text>
<text class="n" x="463.8" y="112.7" fill="#98305e" stroke="#98305e">10.8</text>
<text class="n" x="433.9" y="117.9" fill="#2a2658" stroke="#2a2658">54.1</text>
<text class="n" x="412.7" y="124.9" fill="#2a2658" stroke="#2a2658">15.4</text>
</g>
<g>
<ellipse cx="131.4" cy="252.4" rx="2.9" ry="7.2" fill="#000" fill-opacity="0.9" transform="rotate(3 131.4 252.4)"/>
<ellipse cx="141.0" cy="248.9" rx="2.4" ry="4.0" fill="#000" fill-opacity="0.5" transform="rotate(15 141.0 248.9)"/>
<path d="M133.5 254.6h0.8M129.9 250.9h0.8M131.6 254.5h0.8M130.4 255.2h0.8M130.3 252.7h0.8M131.9 247.1h0.8M133.4 252.8h0.8M131.8 252.3h0.8M128.1 245.7h0.8M129.7 257.0h0.8M130.4 255.2h0.8M129.9 248.4h0.8M130.5 257.3h0.8M128.6 251.5h0.8M132.3 253.1h0.8M131.4 256.0h0.8M132.4 247.8h0.8M133.0 248.9h0.8M130.6 259.1h0.8M135.7 259.4h0.8M132.6 248.9h0.8M129.8 260.1h0.8M132.5 246.0h0.8M134.3 255.3h0.8M133.9 254.4h0.8M127.9 248.8h0.8M131.4 251.6h0.8M134.5 249.5h0.8M131.4 252.2h0.8M131.7 247.6h0.8M130.0 240.4h0.8M132.3 251.5h0.8M132.2 247.6h0.8M131.9 247.9h0.8M129.7 253.9h0.8M132.6 255.2h0.8M131.6 250.6h0.8M133.8 258.3h0.8M130.7 247.3h0.8M132.2 253.9h0.8M129.4 262.9h0.8M128.0 248.4h0.8M131.8 257.0h0.8M128.4 250.2h0.8M133.9 259.1h0.8M131.1 252.6h0.8M129.9 254.2h0.8M130.2 242.9h0.8M128.8 252.5h0.8M128.9 257.4h0.8M133.7 257.2h0.8M132.5 257.7h0.8M131.9 256.5h0.8M132.3 256.1h0.8M129.9 249.3h0.8M129.6 256.2h0.8M132.7 248.8h0.8M130.0 249.7h0.8M133.2 252.0h0.8M131.3 249.2h0.8M131.0 259.8h0.8M130.4 250.7h0.8M134.5 255.9h0.8M129.3 257.4h0.8M129.2 254.9h0.8M127.3 247.6h0.8M133.4 249.8h0.8M130.3 252.6h0.8M131.7 250.3h0.8M129.9 260.7h0.8M134.2 254.1h0.8M129.7 249.9h0.8M131.0 254.7h0.8M134.6 250.2h0.8M132.0 250.5h0.8M132.0 249.3h0.8M132.0 257.8h0.8M131.0 250.9h0.8M132.1 246.4h0.8M135.2 246.4h0.8M131.2 248.3h0.8M134.4 250.3h0.8M130.2 261.1h0.8M131.6 248.8h0.8M131.6 253.3h0.8M130.3 251.5h0.8M131.1 255.8h0.8M132.8 256.4h0.8M131.2 256.1h0.8M130.9 257.8h0.8M132.4 250.5h0.8M134.2 245.6h0.8M130.1 248.7h0.8M131.7 246.7h0.8M129.9 243.6h0.8M132.0 248.9h0.8M135.4 256.2h0.8M129.2 258.4h0.8M131.5 257.4h0.8M129.3 257.7h0.8M133.7 250.6h0.8M130.2 250.6h0.8M131.5 263.6h0.8M134.5 259.5h0.8M131.3 250.9h0.8M132.3 251.2h0.8M130.8 251.4h0.8M133.2 252.2h0.8M132.1 251.2h0.8M131.3 250.9h0.8M133.8 253.6h0.8M134.4 251.8h0.8M133.9 246.1h0.8M130.9 252.1h0.8M130.5 251.8h0.8M130.0 251.6h0.8M130.4 252.4h0.8M131.3 247.8h0.8M130.9 252.5h0.8M129.3 252.8h0.8M133.9 251.5h0.8M132.5 255.4h0.8M129.8 258.5h0.8M136.4 247.9h0.8M135.7 249.4h0.8M134.7 244.2h0.8M133.6 253.2h0.8M129.5 248.5h0.8M129.9 248.2h0.8M132.3 251.6h0.8M127.2 250.8h0.8M132.4 252.9h0.8M135.1 244.1h0.8M132.0 252.6h0.8M133.2 246.3h0.8M129.3 251.5h0.8M132.2 244.1h0.8M132.3 252.4h0.8M133.6 240.4h0.8M132.7 248.4h0.8M130.6 256.0h0.8M134.6 253.3h0.8M131.1 258.5h0.8M130.0 251.6h0.8M130.9 247.8h0.8M131.5 261.9h0.8M131.9 254.8h0.8M131.3 257.6h0.8M132.2 248.4h0.8M131.4 259.1h0.8M131.2 258.0h0.8M131.0 261.8h0.8M132.0 255.5h0.8M130.9 256.3h0.8M131.6 245.6h0.8M132.5 246.9h0.8M134.1 256.2h0.8M131.5 255.6h0.8M126.6 259.3h0.8M130.3 255.5h0.8M136.6 245.2h0.8M130.8 254.0h0.8M132.8 244.7h0.8M129.6 259.2h0.8M130.4 254.9h0.8M129.4 248.1h0.8M128.3 253.5h0.8M133.7 253.0h0.8M131.1 253.5h0.8M132.5 251.1h0.8M132.1 261.5h0.8M135.8 250.0h0.8M128.9 261.2h0.8M133.1 258.1h0.8M132.8 251.5h0.8M133.1 257.7h0.8M134.0 247.5h0.8M133.6 250.9h0.8M130.9 254.0h0.8M130.4 263.1h0.8M132.6 253.7h0.8M131.2 253.6h0.8M131.1 255.1h0.8M133.0 256.4h0.8M129.4 250.8h0.8M132.1 246.8h0.8M132.3 251.8h0.8M131.6 254.2h0.8M130.1 259.6h0.8M133.6 250.0h0.8M132.3 255.9h0.8M130.3 250.7h0.8M133.5 240.6h0.8M129.2 253.8h0.8M133.0 248.2h0.8M132.6 262.8h0.8M132.0 252.3h0.8M132.0 247.8h0.8M132.6 253.3h0.8M132.6 259.1h0.8M131.6 253.3h0.8M131.8 260.5h0.8M129.0 252.3h0.8M130.5 253.0h0.8M133.1 252.9h0.8M132.9 253.4h0.8M130.5 249.3h0.8M129.1 253.4h0.8M130.7 256.3h0.8M133.6 248.5h0.8M129.5 255.2h0.8M130.0 253.3h0.8M132.8 250.7h0.8M135.0 249.0h0.8M132.5 250.6h0.8M126.5 251.4h0.8M131.2 255.1h0.8M131.6 249.1h0.8M130.8 251.0h0.8M133.1 251.3h0.8M133.6 256.5h0.8M130.0 257.2h0.8M127.5 252.4h0.8M129.9 251.9h0.8M133.7 252.6h0.8M131.0 258.3h0.8M130.4 248.6h0.8M133.2 255.4h0.8M129.0 253.0h0.8M133.1 251.8h0.8M130.9 253.0h0.8M132.2 249.2h0.8M133.5 245.3h0.8M131.0 262.3h0.8M129.7 252.2h0.8M127.7 248.4h0.8M129.5 252.6h0.8M130.3 260.9h0.8M130.0 252.2h0.8M131.9 255.4h0.8M133.6 245.3h0.8M135.6 251.2h0.8M130.7 244.8h0.8M131.2 244.2h0.8M132.1 249.7h0.8M132.4 248.8h0.8M131.2 262.7h0.8M133.7 253.3h0.8M129.5 259.1h0.8M128.9 245.8h0.8M134.1 249.8h0.8M133.9 255.2h0.8M135.1 260.9h0.8M132.8 249.6h0.8M132.3 259.0h0.8M132.6 239.1h0.8M131.0 250.7h0.8M131.6 250.8h0.8M134.0 246.7h0.8M132.9 243.3h0.8" stroke="#000" stroke-width="0.8" fill="none"/>
<path d="M128.8 248.4h0.6M130.7 249.0h0.6M130.5 254.7h0.6M132.4 252.8h0.6M132.0 249.8h0.6M130.5 246.9h0.6M131.2 248.1h0.6M131.0 255.1h0.6M132.1 257.5h0.6M130.7 244.0h0.6M129.7 259.9h0.6M132.7 250.8h0.6M133.5 250.9h0.6M134.0 251.0h0.6" stroke="#fff" stroke-width="0.6" fill="none"/>
<path d="M139.8 250.8h0.8M139.2 247.9h0.8M143.8 251.0h0.8M139.4 247.7h0.8M141.5 246.7h0.8M140.7 252.7h0.8M140.4 251.5h0.8M141.4 249.4h0.8M139.0 251.4h0.8M143.6 248.2h0.8M139.2 250.0h0.8M140.3 252.2h0.8M141.9 248.7h0.8M138.2 250.1h0.8M142.1 245.3h0.8M140.0 242.9h0.8M142.4 247.9h0.8M136.2 244.9h0.8M140.0 248.3h0.8M141.3 247.9h0.8M141.4 252.2h0.8M139.4 253.4h0.8M141.5 246.3h0.8M142.4 244.8h0.8M141.3 245.7h0.8M140.1 249.3h0.8M136.7 249.0h0.8M141.6 248.4h0.8M141.9 250.2h0.8M141.2 245.8h0.8M141.6 251.4h0.8M139.1 246.1h0.8M138.4 250.8h0.8M141.0 245.0h0.8M143.1 250.9h0.8M141.2 249.7h0.8M140.7 248.9h0.8M142.1 250.6h0.8M140.2 249.0h0.8M144.5 248.1h0.8M138.7 248.6h0.8M137.1 256.0h0.8M141.6 250.9h0.8M140.1 254.8h0.8M139.4 248.3h0.8M137.3 251.8h0.8M139.5 254.0h0.8M141.4 245.7h0.8M139.2 250.9h0.8M139.4 249.3h0.8M140.4 246.5h0.8M138.8 253.4h0.8M139.0 249.3h0.8M142.9 247.1h0.8M137.3 252.6h0.8M144.1 248.9h0.8M138.3 250.9h0.8M141.6 246.5h0.8M142.2 241.7h0.8M140.6 245.0h0.8M138.4 250.0h0.8M140.1 253.9h0.8M137.1 245.7h0.8M138.6 252.4h0.8M142.6 249.7h0.8M141.7 246.7h0.8M140.5 247.3h0.8M135.3 253.3h0.8M140.6 255.3h0.8M142.6 250.8h0.8M143.7 244.3h0.8M138.6 250.9h0.8M141.6 244.0h0.8M142.0 245.1h0.8M139.8 253.4h0.8M139.5 247.0h0.8M141.9 249.0h0.8M142.0 246.5h0.8M142.3 241.7h0.8M139.7 252.5h0.8M139.3 247.8h0.8M141.2 252.7h0.8M143.6 246.8h0.8M138.9 253.8h0.8M140.0 249.5h0.8M140.1 246.5h0.8M136.5 245.9h0.8M138.1 244.9h0.8M138.3 252.4h0.8M141.9 250.3h0.8M141.2 244.5h0.8M142.4 246.6h0.8M140.0 251.5h0.8M140.7 248.7h0.8M138.5 251.5h0.8M141.3 251.1h0.8M145.0 244.8h0.8M140.5 250.7h0.8M141.3 249.9h0.8M143.0 244.5h0.8M139.9 252.2h0.8M141.0 248.2h0.8M143.8 244.1h0.8M140.4 253.5h0.8M141.2 246.3h0.8M142.2 247.7h0.8M139.5 248.9h0.8M137.7 250.0h0.8M139.4 246.7h0.8M142.2 249.0h0.8" stroke="#111" stroke-width="0.8" fill="none"/>
<path d="M140.4 252.2h0.6M141.6 254.3h0.6M139.7 250.8h0.6M138.4 250.1h0.6M143.1 247.6h0.6M141.0 251.0h0.6M141.2 247.3h0.6M143.7 246.2h0.6M140.6 251.1h0.6M140.3 252.6h0.6M142.6 250.4h0.6M142.8 251.2h0.6M139.6 247.6h0.6M141.2 249.4h0.6M137.4 253.7h0.6M139.7 245.6h0.6" stroke="#fff" stroke-width="0.6" fill="none"/>
<path d="M141.4 249.5h0.6M142.8 249.9h0.6M141.0 250.7h0.6M140.9 245.5h0.6M139.8 251.1h0.6M139.8 251.7h0.6M139.8 250.4h0.6M140.5 250.8h0.6" stroke="#8fc08a" stroke-width="0.6" fill="none"/>
<path d="M155.0 243.4h0.8M152.5 246.4h0.8M154.8 244.2h0.8M158.5 240.1h0.8M149.9 243.5h0.8M162.2 239.1h0.8M148.4 241.2h0.8M152.1 240.5h0.8M150.1 244.9h0.8M148.3 243.8h0.8M147.7 243.4h0.8M157.3 237.4h0.8M155.3 243.4h0.8M154.6 243.6h0.8M156.9 239.3h0.8M154.4 244.6h0.8M162.2 238.4h0.8M150.8 239.9h0.8M154.4 240.2h0.8M149.2 245.6h0.8M167.7 235.8h0.8M164.5 239.2h0.8M159.1 243.2h0.8M162.2 241.3h0.8M149.9 243.4h0.8M159.3 240.0h0.8M157.3 242.5h0.8M156.0 242.7h0.8M158.8 244.4h0.8M153.0 242.2h0.8M141.7 242.5h0.8M146.0 245.9h0.8M148.2 242.0h0.8M158.4 244.9h0.8M161.9 239.7h0.8M156.7 245.3h0.8M149.7 243.0h0.8M147.4 242.3h0.8M159.2 242.5h0.8M152.5 241.8h0.8M164.3 243.5h0.8M148.2 249.3h0.8M152.4 242.8h0.8M151.8 241.9h0.8M158.2 238.7h0.8" stroke="#888" stroke-width="0.8" fill="none"/>
<path d="M167.1 242.0h0.8M181.0 243.9h0.8M170.4 244.2h0.8M171.7 243.2h0.8M147.1 243.9h0.8M164.3 244.6h0.8M169.4 241.5h0.8M159.7 240.3h0.8M169.2 242.6h0.8M159.8 242.0h0.8M169.7 241.2h0.8M165.9 241.3h0.8M146.0 243.1h0.8M167.4 244.9h0.8" stroke="#bbb" stroke-width="0.8" fill="none"/>
<path d="M163.8 241.5h0.8M159.5 244.0h0.8M156.4 245.5h0.8M161.2 240.2h0.8M164.9 242.9h0.8M151.9 241.6h0.8" stroke="#9cc09a" stroke-width="0.8" fill="none"/>
<path d="M157.1 240.5h0.8M167.7 244.5h0.8M151.7 245.4h0.8M160.8 243.6h0.8M166.7 243.1h0.8M156.8 244.6h0.8" stroke="#e6a9b9" stroke-width="0.8" fill="none"/>
<path d="M123.9 204.8h0.8M138.0 232.2h0.8M124.8 219.4h0.8M130.9 215.9h0.8M138.6 237.3h0.8M145.6 230.7h0.8M138.8 221.0h0.8M123.7 224.0h0.8M127.7 205.8h0.8M135.7 200.2h0.8M145.6 226.5h0.8M137.1 225.1h0.8M136.4 220.1h0.8M139.2 211.2h0.8M136.6 221.3h0.8M139.6 206.0h0.8M136.4 217.7h0.8M138.7 225.8h0.8M136.1 224.9h0.8M137.6 235.7h0.8M136.8 225.7h0.8M129.3 216.8h0.8M139.6 232.0h0.8M129.1 218.8h0.8M133.3 219.9h0.8M132.1 214.2h0.8M134.6 220.8h0.8M141.1 209.0h0.8M129.2 228.8h0.8M138.0 217.0h0.8" stroke="#9d9db4" stroke-width="0.8" fill="none"/>
<path d="M128.0 232.0h0.8M128.5 232.9h0.8M136.5 217.5h0.8M133.9 229.2h0.8M135.0 198.4h0.8M130.7 193.5h0.8M137.4 230.4h0.8M141.2 203.1h0.8M147.7 241.2h0.8M134.3 195.4h0.8" stroke="#e090aa" stroke-width="0.8" fill="none"/>
<path d="M153.1 229.6h0.8M206.2 220.1h0.8M135.5 217.5h0.8M203.4 223.3h0.8M143.5 210.7h0.8M180.3 228.2h0.8M160.2 222.2h0.8M170.2 221.3h0.8M158.9 219.9h0.8M158.1 230.8h0.8" stroke="#b0b0c4" stroke-width="0.8" fill="none"/>
<path d="M188.0 236.8h0.8M174.9 235.3h0.8M170.7 201.0h0.8M187.9 202.5h0.8M153.1 207.4h0.8M178.3 214.4h0.8M202.0 214.6h0.8M170.3 208.2h0.8M172.7 198.8h0.8M132.5 218.5h0.8" stroke="#e8a8bc" stroke-width="0.8" fill="none"/>
<path d="M161.5 222.7h0.8M139.3 240.7h0.8M140.1 241.6h0.8M146.4 228.5h0.8M144.7 233.2h0.8M152.3 217.0h0.8M151.0 248.0h0.8M148.4 239.2h0.8" stroke="#b0b0c4" stroke-width="0.8" fill="none"/>
<path d="M150.6 227.6h0.8M162.3 187.1h0.8M179.7 223.5h0.8M199.4 225.6h0.8M187.5 185.5h0.8M110.6 204.8h0.8M156.8 228.2h0.8" stroke="#a8dde0" stroke-width="0.8" fill="none"/>
<rect x="107.0" y="169.4" width="109.30" height="108.50" fill="none" stroke="#111" stroke-width="1.05"/>
<path d="M112.3 277.9v1.8M117.6 277.9v1.8M122.9 277.9v1.8M133.6 277.9v1.8M138.9 277.9v1.8M144.2 277.9v1.8M154.8 277.9v1.8M160.2 277.9v1.8M165.5 277.9v1.8M176.1 277.9v1.8M181.4 277.9v1.8M186.7 277.9v1.8M197.4 277.9v1.8M202.7 277.9v1.8M208.0 277.9v1.8M107.0 269.7h-1.6M107.0 265.0h-1.6M107.0 261.6h-1.6M107.0 258.9h-1.6M107.0 256.8h-1.6M107.0 255.0h-1.6M107.0 253.4h-1.6M107.0 252.0h-1.6M107.0 242.6h-1.6M107.0 237.8h-1.6M107.0 234.4h-1.6M107.0 231.8h-1.6M107.0 229.7h-1.6M107.0 227.9h-1.6M107.0 226.3h-1.6M107.0 224.9h-1.6M107.0 215.5h-1.6M107.0 210.7h-1.6M107.0 207.3h-1.6M107.0 204.7h-1.6M107.0 202.5h-1.6M107.0 200.7h-1.6M107.0 199.2h-1.6M107.0 197.8h-1.6M107.0 188.4h-1.6M107.0 183.6h-1.6M107.0 180.2h-1.6M107.0 177.6h-1.6M107.0 175.4h-1.6M107.0 173.6h-1.6M107.0 172.0h-1.6M107.0 170.6h-1.6" stroke="#111" stroke-width="0.8" fill="none"/>
<path d="M107.0 277.9v3.4M128.3 277.9v3.4M149.5 277.9v3.4M170.8 277.9v3.4M192.0 277.9v3.4M213.3 277.9v3.4M107.0 277.9h-3.3M107.0 250.8h-3.3M107.0 223.6h-3.3M107.0 196.5h-3.3M107.0 169.4h-3.3" stroke="#111" stroke-width="1" fill="none"/>
<text class="k" x="107.4" y="289.8" text-anchor="middle">0</text><text class="k" x="128.7" y="289.8" text-anchor="middle">200</text><text class="k" x="149.9" y="289.8" text-anchor="middle">400</text><text class="k" x="171.2" y="289.8" text-anchor="middle">600</text><text class="k" x="192.4" y="289.8" text-anchor="middle">800</text><text class="k" x="215.7" y="289.8" text-anchor="middle">1000</text>
<text class="y" x="100.1" y="281.1" text-anchor="end">10</text><text class="s" x="100.0" y="276.2">0</text><text class="y" x="100.1" y="254.0" text-anchor="end">10</text><text class="s" x="100.0" y="249.1">1</text><text class="y" x="100.1" y="226.8" text-anchor="end">10</text><text class="s" x="100.0" y="221.9">2</text><text class="y" x="100.1" y="199.7" text-anchor="end">10</text><text class="s" x="100.0" y="194.8">3</text><text class="y" x="100.1" y="172.6" text-anchor="end">10</text><text class="s" x="100.0" y="167.7">4</text>
<text class="a" x="159.6" y="301.7" text-anchor="middle">FSC-H</text>
<text class="a" transform="translate(81.4 222.9) rotate(-90)" text-anchor="middle">SSC-H</text>
<ellipse cx="135.8" cy="219.6" rx="12.7" ry="21.8" fill="none" stroke="#f0506a" stroke-opacity="0.4" stroke-width="2.8" transform="rotate(0 135.8 219.6)"/>
<ellipse cx="135.8" cy="219.6" rx="12.7" ry="21.8" fill="none" stroke="#98102c" stroke-width="1.5" transform="rotate(0 135.8 219.6)"/>
<ellipse cx="172.9" cy="223.9" rx="22.7" ry="9.75" fill="none" stroke="#5fd050" stroke-opacity="0.4" stroke-width="2.6" transform="rotate(-1.5 172.9 223.9)"/>
<ellipse cx="172.9" cy="223.9" rx="22.7" ry="9.75" fill="none" stroke="#2c682b" stroke-width="1.3" transform="rotate(-1.5 172.9 223.9)"/>
<ellipse cx="165.8" cy="243.2" rx="19.6" ry="7.0" fill="none" stroke="#d84aa8" stroke-opacity="0.4" stroke-width="2.7" transform="rotate(-1.5 165.8 243.2)"/>
<ellipse cx="165.8" cy="243.2" rx="19.6" ry="7.0" fill="none" stroke="#68144f" stroke-width="1.45" transform="rotate(-1.5 165.8 243.2)"/>
<ellipse cx="131.8" cy="252.3" rx="4.1" ry="8.8" fill="none" stroke="#17133f" stroke-width="1.9" transform="rotate(3 131.8 252.3)"/>
<ellipse cx="141.2" cy="248.9" rx="4.3" ry="6.3" fill="none" stroke="#17133f" stroke-width="1.9" transform="rotate(9 141.2 248.9)"/>
<text class="n" x="135.9" y="194.5" fill="#b0303f" stroke="#b0303f">1.2 +/- 0.3</text>
<text class="n" x="160.5" y="209.3" fill="#46904c" stroke="#46904c">0.2 +/- 0.1</text>
<text class="n" x="168.8" y="255.2" fill="#98305e" stroke="#98305e">3.7 +/- 1.0</text>
<text class="n" x="139.2" y="264.7" fill="#2a2658" stroke="#2a2658">7.6 +/- 1.5</text>
<text class="n" x="109.7" y="274.9" fill="#2a2658" stroke="#2a2658">79.4 +/- 3.6</text>
</g>
<g>
<ellipse cx="280.1" cy="252.4" rx="1.8" ry="5.8" fill="#000" fill-opacity="0.55" transform="rotate(3 280.1 252.4)"/>
<path d="M279.9 251.6h0.8M280.1 253.4h0.8M280.3 253.7h0.8M279.4 251.9h0.8M278.3 247.4h0.8M279.6 254.2h0.8M279.3 246.2h0.8M281.6 248.8h0.8M277.9 248.1h0.8M279.0 241.9h0.8M279.2 259.6h0.8M279.2 248.8h0.8M281.7 252.8h0.8M279.6 258.2h0.8M278.4 252.0h0.8M280.7 253.3h0.8M278.7 248.3h0.8M282.6 252.1h0.8M279.5 257.0h0.8M277.6 252.0h0.8M277.3 258.2h0.8M278.7 252.8h0.8M278.8 252.8h0.8M280.5 252.4h0.8M279.6 253.4h0.8M279.9 250.2h0.8M280.8 256.1h0.8M278.4 247.9h0.8M278.9 253.6h0.8M277.8 258.9h0.8M280.1 253.0h0.8M281.5 249.2h0.8M280.5 254.1h0.8M282.1 248.0h0.8M281.9 255.0h0.8M280.2 257.0h0.8M279.8 251.5h0.8M281.3 250.9h0.8M281.3 258.4h0.8M280.4 253.2h0.8M279.4 248.4h0.8M282.3 248.1h0.8M280.1 253.7h0.8M279.0 249.4h0.8M278.6 261.4h0.8M280.3 258.4h0.8M282.7 256.9h0.8M282.0 250.6h0.8M278.8 258.6h0.8M282.4 248.2h0.8M281.6 253.8h0.8M281.0 256.6h0.8M282.9 249.9h0.8M279.8 257.8h0.8M279.6 254.8h0.8M280.4 245.2h0.8M279.1 256.2h0.8M279.7 245.8h0.8M279.4 252.9h0.8M280.7 253.9h0.8M281.1 248.0h0.8M279.4 249.1h0.8M279.4 254.3h0.8M282.0 251.6h0.8M281.4 257.3h0.8M278.7 248.9h0.8M280.6 246.6h0.8M283.2 244.6h0.8M278.2 255.7h0.8M278.9 255.5h0.8M278.5 257.0h0.8M279.2 255.6h0.8M281.9 246.2h0.8M279.3 244.9h0.8M278.4 256.4h0.8M279.9 256.1h0.8M281.9 257.0h0.8M281.2 250.7h0.8M279.5 253.9h0.8M281.1 257.2h0.8M280.6 251.3h0.8M279.7 259.6h0.8M280.1 261.1h0.8M278.9 256.2h0.8M280.3 255.8h0.8M279.0 253.9h0.8M280.1 251.3h0.8M278.8 246.4h0.8M279.6 254.9h0.8M280.4 253.6h0.8M280.9 246.8h0.8M281.6 252.9h0.8M279.2 250.2h0.8M281.5 253.4h0.8M277.4 261.4h0.8M277.7 259.8h0.8M281.6 248.3h0.8M281.6 258.0h0.8M281.5 255.4h0.8M280.5 253.5h0.8M279.3 253.7h0.8M281.9 252.2h0.8M283.2 246.1h0.8M280.5 246.2h0.8M277.6 253.5h0.8M279.8 250.2h0.8M278.7 251.5h0.8M277.9 251.6h0.8M279.7 247.2h0.8M281.1 244.7h0.8M280.7 253.8h0.8M280.9 253.2h0.8M281.3 251.5h0.8M278.6 254.1h0.8M279.1 251.0h0.8M280.5 248.6h0.8M281.9 246.1h0.8M281.9 252.5h0.8M282.3 257.4h0.8M281.0 253.9h0.8M280.6 246.7h0.8M279.6 248.5h0.8M279.2 252.0h0.8M279.0 253.1h0.8M279.9 250.6h0.8M280.6 254.6h0.8M278.4 251.1h0.8M284.2 252.9h0.8M281.0 248.8h0.8M281.2 259.2h0.8M281.0 252.1h0.8M280.6 244.5h0.8M281.0 251.3h0.8M280.6 254.2h0.8M280.0 261.6h0.8M281.6 249.9h0.8M280.9 255.3h0.8M279.9 258.6h0.8M280.0 245.1h0.8M278.6 254.2h0.8M278.7 253.2h0.8M278.0 254.1h0.8M280.0 248.7h0.8M279.4 251.4h0.8M281.4 253.7h0.8M279.8 253.2h0.8M281.3 254.6h0.8M282.7 249.6h0.8M281.3 253.2h0.8M279.1 255.1h0.8M281.1 256.8h0.8M281.0 248.9h0.8M280.3 254.2h0.8M282.4 253.2h0.8M280.0 259.3h0.8M280.3 250.7h0.8M280.4 255.9h0.8M280.7 245.4h0.8M279.4 256.8h0.8M278.9 256.2h0.8M280.6 249.2h0.8M281.7 243.5h0.8M277.6 245.8h0.8M280.9 251.4h0.8M281.0 252.3h0.8M280.4 250.4h0.8M279.4 256.8h0.8M281.5 247.0h0.8M280.5 261.2h0.8M281.4 248.6h0.8M281.1 253.6h0.8M279.5 256.7h0.8M282.0 250.5h0.8M280.4 250.9h0.8M279.8 259.4h0.8M279.4 255.0h0.8M280.5 253.0h0.8M278.5 255.1h0.8M278.5 255.6h0.8M280.0 253.2h0.8" stroke="#000" stroke-width="0.8" fill="none"/>
<path d="M279.8 249.6h0.6M279.1 252.5h0.6M280.0 253.5h0.6M279.7 255.1h0.6M280.3 253.0h0.6M279.9 252.5h0.6M280.9 250.2h0.6M278.9 253.8h0.6M280.5 252.7h0.6M280.6 248.2h0.6M279.2 252.5h0.6M280.3 248.4h0.6M280.9 246.2h0.6M281.5 249.1h0.6M279.8 249.0h0.6M278.9 251.4h0.6" stroke="#fff" stroke-width="0.6" fill="none"/>
<path d="M278.3 251.3h0.6M280.4 251.5h0.6M280.4 247.7h0.6M278.5 248.0h0.6M281.1 253.6h0.6M278.1 258.1h0.6M280.6 256.2h0.6M280.9 256.9h0.6" stroke="#c9b26a" stroke-width="0.6" fill="none"/>
<path d="M287.0 248.5h0.8M287.1 253.3h0.8M290.4 249.3h0.8M290.4 243.9h0.8M290.1 247.0h0.8" stroke="#888" stroke-width="0.8" fill="none"/>
<rect x="255.5" y="169.4" width="109.40" height="108.50" fill="none" stroke="#111" stroke-width="1.05"/>
<path d="M260.8 277.9v1.8M266.1 277.9v1.8M271.4 277.9v1.8M282.1 277.9v1.8M287.4 277.9v1.8M292.7 277.9v1.8M303.3 277.9v1.8M308.6 277.9v1.8M314.0 277.9v1.8M324.6 277.9v1.8M329.9 277.9v1.8M335.2 277.9v1.8M345.9 277.9v1.8M351.2 277.9v1.8M356.5 277.9v1.8M255.5 269.7h-1.6M255.5 265.0h-1.6M255.5 261.6h-1.6M255.5 258.9h-1.6M255.5 256.8h-1.6M255.5 255.0h-1.6M255.5 253.4h-1.6M255.5 252.0h-1.6M255.5 242.6h-1.6M255.5 237.8h-1.6M255.5 234.4h-1.6M255.5 231.8h-1.6M255.5 229.7h-1.6M255.5 227.9h-1.6M255.5 226.3h-1.6M255.5 224.9h-1.6M255.5 215.5h-1.6M255.5 210.7h-1.6M255.5 207.3h-1.6M255.5 204.7h-1.6M255.5 202.5h-1.6M255.5 200.7h-1.6M255.5 199.2h-1.6M255.5 197.8h-1.6M255.5 188.4h-1.6M255.5 183.6h-1.6M255.5 180.2h-1.6M255.5 177.6h-1.6M255.5 175.4h-1.6M255.5 173.6h-1.6M255.5 172.0h-1.6M255.5 170.6h-1.6" stroke="#111" stroke-width="0.8" fill="none"/>
<path d="M255.5 277.9v3.4M276.8 277.9v3.4M298.0 277.9v3.4M319.3 277.9v3.4M340.5 277.9v3.4M361.8 277.9v3.4M255.5 277.9h-3.3M255.5 250.8h-3.3M255.5 223.6h-3.3M255.5 196.5h-3.3M255.5 169.4h-3.3" stroke="#111" stroke-width="1" fill="none"/>
<text class="k" x="255.9" y="289.8" text-anchor="middle">0</text><text class="k" x="277.2" y="289.8" text-anchor="middle">200</text><text class="k" x="298.4" y="289.8" text-anchor="middle">400</text><text class="k" x="319.7" y="289.8" text-anchor="middle">600</text><text class="k" x="340.9" y="289.8" text-anchor="middle">800</text><text class="k" x="364.2" y="289.8" text-anchor="middle">1000</text>
<text class="y" x="249.2" y="281.1" text-anchor="end">10</text><text class="s" x="249.1" y="276.2">0</text><text class="y" x="249.2" y="254.0" text-anchor="end">10</text><text class="s" x="249.1" y="249.1">1</text><text class="y" x="249.2" y="226.8" text-anchor="end">10</text><text class="s" x="249.1" y="221.9">2</text><text class="y" x="249.2" y="199.7" text-anchor="end">10</text><text class="s" x="249.1" y="194.8">3</text><text class="y" x="249.2" y="172.6" text-anchor="end">10</text><text class="s" x="249.1" y="167.7">4</text>
<text class="a" x="308.1" y="301.8" text-anchor="middle">FSC-H</text>
<text class="a" transform="translate(228.4 224.1) rotate(-90)" text-anchor="middle">SSC-H</text>
<ellipse cx="284.1" cy="219.5" rx="12.7" ry="21.8" fill="none" stroke="#f0506a" stroke-opacity="0.4" stroke-width="2.8" transform="rotate(0 284.1 219.5)"/>
<ellipse cx="284.1" cy="219.5" rx="12.7" ry="21.8" fill="none" stroke="#98102c" stroke-width="1.5" transform="rotate(0 284.1 219.5)"/>
<ellipse cx="321.2" cy="223.8" rx="22.7" ry="9.75" fill="none" stroke="#5fd050" stroke-opacity="0.4" stroke-width="2.6" transform="rotate(-1.5 321.2 223.8)"/>
<ellipse cx="321.2" cy="223.8" rx="22.7" ry="9.75" fill="none" stroke="#2c682b" stroke-width="1.3" transform="rotate(-1.5 321.2 223.8)"/>
<ellipse cx="314.1" cy="243.2" rx="19.6" ry="7.0" fill="none" stroke="#d84aa8" stroke-opacity="0.4" stroke-width="2.7" transform="rotate(-1.5 314.1 243.2)"/>
<ellipse cx="314.1" cy="243.2" rx="19.6" ry="7.0" fill="none" stroke="#68144f" stroke-width="1.45" transform="rotate(-1.5 314.1 243.2)"/>
<ellipse cx="280.1" cy="252.2" rx="4.1" ry="8.8" fill="none" stroke="#17133f" stroke-width="1.9" transform="rotate(3 280.1 252.2)"/>
<ellipse cx="289.5" cy="248.8" rx="4.3" ry="6.3" fill="none" stroke="#17133f" stroke-width="1.9" transform="rotate(9 289.5 248.8)"/>
<text class="n" x="292.3" y="199.2" fill="#b0303f" stroke="#b0303f">0.3</text>
<text class="n" x="317.6" y="209.3" fill="#46904c" stroke="#46904c">0.0</text>
<text class="n" x="323.0" y="259.4" fill="#98305e" stroke="#98305e">0.1</text>
<text class="n" x="290.2" y="264.9" fill="#2a2658" stroke="#2a2658">2.0</text>
<text class="n" x="269.8" y="273.8" fill="#2a2658" stroke="#2a2658">89.3</text>
</g>
<g>
<ellipse cx="433.4" cy="248.9" rx="2.0" ry="3.4" fill="#000" fill-opacity="0.25" transform="rotate(15 433.4 248.9)"/>
<path d="M425.8 255.9h0.8M424.0 250.8h0.8M425.7 250.3h0.8M425.6 253.6h0.8M423.5 254.2h0.8M426.9 245.6h0.8M424.9 255.9h0.8M423.3 259.0h0.8M424.9 255.0h0.8M422.4 255.0h0.8M422.0 254.7h0.8M427.4 248.8h0.8M426.5 247.9h0.8M423.9 255.7h0.8M421.8 253.9h0.8M423.0 249.8h0.8M425.3 252.3h0.8M424.6 252.7h0.8M424.2 259.5h0.8M424.2 251.3h0.8M423.9 255.7h0.8M425.2 243.1h0.8M423.8 254.5h0.8M428.0 250.1h0.8M423.9 247.4h0.8M424.3 244.7h0.8M422.8 252.1h0.8M421.8 251.2h0.8M422.7 258.1h0.8M425.9 262.0h0.8M424.0 255.5h0.8M427.6 249.9h0.8M426.7 248.6h0.8M425.9 245.7h0.8M423.5 251.7h0.8M424.1 243.9h0.8M424.2 251.3h0.8M426.1 255.3h0.8M420.8 253.0h0.8M425.6 252.2h0.8M423.3 246.4h0.8M423.7 248.3h0.8M423.7 251.1h0.8M426.1 248.3h0.8M424.7 247.7h0.8M424.2 257.2h0.8M423.4 247.2h0.8M424.0 252.7h0.8M422.9 254.4h0.8M423.9 255.6h0.8M421.8 255.8h0.8M426.1 249.0h0.8M426.9 253.7h0.8M422.3 247.7h0.8M423.0 249.6h0.8M423.6 253.8h0.8M423.8 251.1h0.8M423.0 243.4h0.8M423.2 247.0h0.8M425.9 241.8h0.8M426.4 239.9h0.8M423.7 252.6h0.8M422.6 248.1h0.8M425.5 247.8h0.8M423.8 252.7h0.8M425.3 247.0h0.8M426.0 251.9h0.8M425.8 246.3h0.8M425.6 252.2h0.8M425.3 249.7h0.8" stroke="#888" stroke-width="0.8" fill="none"/>
<path d="M425.1 252.7h0.8M421.0 262.3h0.8M423.0 254.3h0.8M423.8 250.7h0.8M423.3 256.1h0.8M425.0 256.3h0.8M421.7 255.6h0.8M421.6 261.6h0.8M424.2 257.1h0.8M423.9 253.1h0.8" stroke="#c9a0a8" stroke-width="0.8" fill="none"/>
<path d="M430.7 254.2h0.8M432.0 251.9h0.8M432.2 248.2h0.8M432.8 248.5h0.8M432.1 250.5h0.8M435.7 244.8h0.8M433.6 245.1h0.8M436.1 246.0h0.8M434.0 249.6h0.8M434.7 243.5h0.8M436.3 249.3h0.8M433.7 252.2h0.8M432.5 245.8h0.8M434.7 255.2h0.8M432.1 248.4h0.8M435.0 249.0h0.8M435.1 251.3h0.8M432.8 250.8h0.8M431.7 252.3h0.8M431.3 252.4h0.8M438.8 245.2h0.8M437.3 245.6h0.8M431.9 254.1h0.8M434.7 251.4h0.8M433.9 249.7h0.8M434.3 248.7h0.8M433.8 245.4h0.8M436.3 249.7h0.8M435.9 251.9h0.8M435.0 246.1h0.8M432.9 249.0h0.8M433.4 248.1h0.8M429.9 246.9h0.8M433.3 247.6h0.8M434.0 244.5h0.8M430.9 252.8h0.8M432.2 247.1h0.8M432.1 248.2h0.8M431.0 254.4h0.8M430.7 252.4h0.8M432.3 250.1h0.8M437.6 250.1h0.8M435.5 241.0h0.8M433.0 248.2h0.8M433.4 249.7h0.8M432.3 245.9h0.8M434.8 248.6h0.8M432.9 250.9h0.8M433.4 249.5h0.8M431.6 248.6h0.8M429.3 253.2h0.8M430.9 253.4h0.8M432.7 248.4h0.8M435.4 250.2h0.8M433.9 248.4h0.8M433.5 246.9h0.8M433.5 243.7h0.8M433.7 246.8h0.8M434.1 255.6h0.8M437.4 246.6h0.8M432.9 248.5h0.8M429.7 252.8h0.8M434.3 250.2h0.8M436.2 251.3h0.8M432.7 249.7h0.8M432.3 250.2h0.8M430.9 249.9h0.8M433.2 247.7h0.8M432.9 248.5h0.8M430.1 250.0h0.8M431.7 254.0h0.8M432.7 251.7h0.8M433.4 248.7h0.8M431.7 247.2h0.8M434.3 242.0h0.8M433.5 246.9h0.8M433.1 252.1h0.8M432.0 252.3h0.8M434.9 251.8h0.8M432.8 249.2h0.8M434.9 254.2h0.8M436.6 244.7h0.8M428.3 253.1h0.8M433.6 253.2h0.8M434.6 248.5h0.8M434.2 249.2h0.8M435.2 252.1h0.8M432.4 246.5h0.8M434.4 252.0h0.8M433.6 250.2h0.8" stroke="#444" stroke-width="0.8" fill="none"/>
<path d="M432.2 246.6h0.8M435.2 245.0h0.8M433.7 250.6h0.8M433.8 251.3h0.8M435.8 250.4h0.8M433.4 244.8h0.8M430.3 248.5h0.8M435.6 245.5h0.8M434.1 247.5h0.8M432.9 249.5h0.8" stroke="#7a9a70" stroke-width="0.8" fill="none"/>
<path d="M446.3 239.0h0.8M450.9 241.0h0.8M435.5 245.5h0.8M455.7 239.7h0.8M455.5 236.7h0.8M445.4 245.5h0.8M454.5 242.2h0.8M452.7 240.1h0.8M451.1 243.8h0.8M452.3 242.1h0.8M451.6 242.4h0.8M449.6 237.6h0.8M449.7 239.2h0.8M444.2 242.5h0.8M447.5 238.5h0.8M443.4 243.0h0.8M444.0 242.4h0.8M447.9 242.3h0.8M443.3 242.9h0.8M449.4 238.4h0.8M450.8 238.9h0.8M448.9 243.2h0.8" stroke="#bbb" stroke-width="0.8" fill="none"/>
<path d="M450.9 239.0h0.8M441.6 240.3h0.8M450.9 242.4h0.8M436.9 245.9h0.8M454.3 240.2h0.8M447.0 243.2h0.8M441.2 242.3h0.8M450.6 241.2h0.8M447.4 242.8h0.8M457.8 241.7h0.8M449.3 241.0h0.8M454.8 241.6h0.8" stroke="#e6a9b9" stroke-width="0.8" fill="none"/>
<path d="M455.3 245.4h0.8M466.3 239.7h0.8M453.0 245.3h0.8M451.7 246.0h0.8M454.2 246.9h0.8M447.7 237.2h0.8M443.8 247.0h0.8M449.7 240.9h0.8" stroke="#9cc09a" stroke-width="0.8" fill="none"/>
<rect x="399.05" y="169.4" width="109.25" height="108.50" fill="none" stroke="#111" stroke-width="1.05"/>
<path d="M404.4 277.9v1.8M409.7 277.9v1.8M415.0 277.9v1.8M425.6 277.9v1.8M430.9 277.9v1.8M436.3 277.9v1.8M446.9 277.9v1.8M452.2 277.9v1.8M457.5 277.9v1.8M468.1 277.9v1.8M473.5 277.9v1.8M478.8 277.9v1.8M489.4 277.9v1.8M494.7 277.9v1.8M500.0 277.9v1.8M399.05 269.7h-1.6M399.05 265.0h-1.6M399.05 261.6h-1.6M399.05 258.9h-1.6M399.05 256.8h-1.6M399.05 255.0h-1.6M399.05 253.4h-1.6M399.05 252.0h-1.6M399.05 242.6h-1.6M399.05 237.8h-1.6M399.05 234.4h-1.6M399.05 231.8h-1.6M399.05 229.7h-1.6M399.05 227.9h-1.6M399.05 226.3h-1.6M399.05 224.9h-1.6M399.05 215.5h-1.6M399.05 210.7h-1.6M399.05 207.3h-1.6M399.05 204.7h-1.6M399.05 202.5h-1.6M399.05 200.7h-1.6M399.05 199.2h-1.6M399.05 197.8h-1.6M399.05 188.4h-1.6M399.05 183.6h-1.6M399.05 180.2h-1.6M399.05 177.6h-1.6M399.05 175.4h-1.6M399.05 173.6h-1.6M399.05 172.0h-1.6M399.05 170.6h-1.6" stroke="#111" stroke-width="0.8" fill="none"/>
<path d="M399.1 277.9v3.4M420.3 277.9v3.4M441.6 277.9v3.4M462.8 277.9v3.4M484.1 277.9v3.4M505.4 277.9v3.4M399.05 277.9h-3.3M399.05 250.8h-3.3M399.05 223.6h-3.3M399.05 196.5h-3.3M399.05 169.4h-3.3" stroke="#111" stroke-width="1" fill="none"/>
<text class="k" x="399.4" y="289.8" text-anchor="middle">0</text><text class="k" x="420.7" y="289.8" text-anchor="middle">200</text><text class="k" x="442.0" y="289.8" text-anchor="middle">400</text><text class="k" x="463.2" y="289.8" text-anchor="middle">600</text><text class="k" x="484.5" y="289.8" text-anchor="middle">800</text><text class="k" x="507.8" y="289.8" text-anchor="middle">1000</text>
<text class="y" x="392.8" y="281.4" text-anchor="end">10</text><text class="s" x="392.7" y="276.5">0</text><text class="y" x="392.8" y="254.3" text-anchor="end">10</text><text class="s" x="392.7" y="249.4">1</text><text class="y" x="392.8" y="227.1" text-anchor="end">10</text><text class="s" x="392.7" y="222.2">2</text><text class="y" x="392.8" y="200.0" text-anchor="end">10</text><text class="s" x="392.7" y="195.1">3</text><text class="y" x="392.8" y="172.9" text-anchor="end">10</text><text class="s" x="392.7" y="168.0">4</text>
<text class="a" x="451.6" y="301.8" text-anchor="middle">FSC-H</text>
<text class="a" transform="translate(378.3 223.9) rotate(-90)" text-anchor="middle">SSC-H</text>
<ellipse cx="428.1" cy="219.5" rx="12.7" ry="21.8" fill="none" stroke="#f0506a" stroke-opacity="0.4" stroke-width="2.8" transform="rotate(0 428.1 219.5)"/>
<ellipse cx="428.1" cy="219.5" rx="12.7" ry="21.8" fill="none" stroke="#98102c" stroke-width="1.5" transform="rotate(0 428.1 219.5)"/>
<ellipse cx="465.2" cy="223.8" rx="22.7" ry="9.75" fill="none" stroke="#5fd050" stroke-opacity="0.4" stroke-width="2.6" transform="rotate(-1.5 465.2 223.8)"/>
<ellipse cx="465.2" cy="223.8" rx="22.7" ry="9.75" fill="none" stroke="#2c682b" stroke-width="1.3" transform="rotate(-1.5 465.2 223.8)"/>
<ellipse cx="458.1" cy="243.2" rx="19.6" ry="7.0" fill="none" stroke="#d84aa8" stroke-opacity="0.4" stroke-width="2.7" transform="rotate(-1.5 458.1 243.2)"/>
<ellipse cx="458.1" cy="243.2" rx="19.6" ry="7.0" fill="none" stroke="#68144f" stroke-width="1.45" transform="rotate(-1.5 458.1 243.2)"/>
<ellipse cx="424.0" cy="252.2" rx="4.1" ry="8.8" fill="none" stroke="#17133f" stroke-width="1.9" transform="rotate(3 424.0 252.2)"/>
<ellipse cx="433.5" cy="248.8" rx="4.3" ry="6.3" fill="none" stroke="#17133f" stroke-width="1.9" transform="rotate(9 433.5 248.8)"/>
<text class="n" x="436.8" y="199.8" fill="#b0303f" stroke="#b0303f">4.0</text>
<text class="n" x="461.6" y="209.3" fill="#46904c" stroke="#46904c">0.0</text>
<text class="n" x="463.3" y="259.4" fill="#98305e" stroke="#98305e">11.8</text>
<text class="n" x="434.2" y="264.6" fill="#2a2658" stroke="#2a2658">43.2</text>
<text class="n" x="409.9" y="271.2" fill="#2a2658" stroke="#2a2658">27.1</text>
</g>
</svg>
</body></html>
